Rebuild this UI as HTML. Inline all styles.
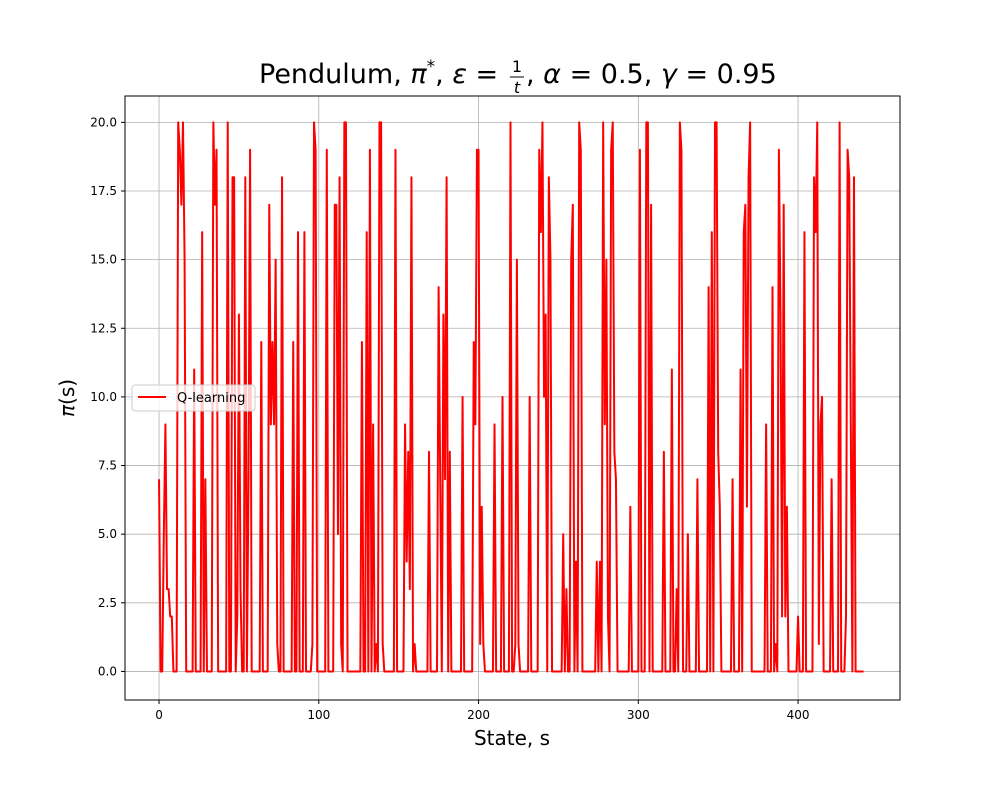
<!DOCTYPE html>
<html><head><meta charset="utf-8"><style>
body{margin:0;background:#fff;font-family:"Liberation Sans","DejaVu Sans",sans-serif}
svg text{font-family:"DejaVu Sans","Liberation Sans",sans-serif}
</style></head><body>
<svg id="chart" width="1000" height="800" xmlns="http://www.w3.org/2000/svg">
<rect width="1000" height="800" fill="#fff"/>
<g id="grid"></g>
<g id="series"></g>
<rect x="125" y="96" width="775" height="604" fill="none" stroke="#000" stroke-width="1"/>
<g id="ticks"></g>
<g font-size="27">
<text x="259" y="83">Pendulum, <tspan font-style="italic">π</tspan><tspan font-size="17" dy="-11">*</tspan><tspan dy="11">, </tspan><tspan font-style="italic">ε</tspan> =</text>
<text x="517" y="72" font-size="16" text-anchor="middle">1</text>
<line x1="510" y1="77" x2="524" y2="77" stroke="#000" stroke-width="1"/>
<text x="517" y="93" font-size="16" font-style="italic" text-anchor="middle">t</text>
<text x="526" y="83">, <tspan font-style="italic">α</tspan> = 0.5, <tspan font-style="italic">γ</tspan> = 0.95</text>
</g>
<text x="512" y="745" font-size="20" text-anchor="middle">State, s</text>
<text transform="translate(74,398) rotate(-90)" font-size="20" text-anchor="middle"><tspan font-style="italic">π</tspan>(s)</text>
<g>
<rect x="132" y="385" width="123" height="26" rx="3" fill="#fff" fill-opacity="0.8" stroke="#ccc"/>
<line x1="138" y1="397" x2="166" y2="397" stroke="#f00" stroke-width="2"/>
<text x="177" y="402" font-size="13">Q-learning</text>
</g>
</svg>
<script>
const xTicks=[0,100,200,300,400];
const yTicks=[0,2.5,5,7.5,10,12.5,15,17.5,20];
const yTickLabels=["0.0","2.5","5.0","7.5","10.0","12.5","15.0","17.5","20.0"];
const policy=[
7,0,0,5,9,3,3,2,2,0,
0,0,20,19,17,20,15,0,0,0,
0,0,11,0,0,0,0,16,0,7,
0,0,0,0,20,17,19,0,0,0,
0,0,0,20,0,0,18,18,0,2,
13,3,0,0,18,0,7,19,0,0,
0,0,0,0,12,0,0,0,0,17,
9,12,9,15,1,0,0,18,0,0,
0,0,0,0,12,0,0,16,0,0,
0,16,0,0,0,0,1,20,19,0,
0,0,0,0,0,19,0,0,0,0,
17,17,5,18,1,0,20,20,0,0,
0,0,0,0,0,0,0,12,0,0,
16,0,19,0,9,0,1,0,20,20,
1,0,0,0,0,0,0,0,19,0,
0,0,0,0,9,4,8,3,18,0,
1,0,0,0,0,0,0,0,0,8,
0,0,0,0,0,14,7,0,13,7,
18,0,8,0,0,0,0,0,0,0,
10,0,0,0,0,0,0,12,9,19,
19,1,6,1,0,0,0,0,0,0,
9,0,0,0,0,10,0,0,0,0,
20,0,0,1,15,1,0,0,0,0,
0,0,10,0,0,0,0,0,19,16,
20,10,13,0,18,15,0,0,0,0,
0,0,0,5,0,3,0,0,15,17,
0,4,0,20,19,0,0,0,0,0,
0,0,0,0,4,0,4,0,20,9,
15,2,0,19,20,8,7,0,0,0,
0,0,0,0,0,6,0,0,0,0,
0,19,0,0,0,20,20,0,17,0,
0,0,0,0,0,0,8,0,0,0,
0,11,0,0,3,0,20,19,0,0,
0,5,0,0,0,0,0,7,0,0,
0,0,0,0,14,0,16,0,20,20,
8,6,0,0,0,0,0,0,0,7,
0,0,0,0,11,0,16,17,6,18,
20,0,0,0,0,0,0,0,0,0,
9,0,0,0,14,0,1,0,19,13,
2,17,2,6,0,0,0,0,0,0,
2,0,0,0,16,0,0,0,0,0,
18,16,20,1,9,10,0,0,0,0,
0,7,0,0,0,0,20,0,0,0,
2,19,18,9,0,18,0,0,0,0,
0,0];
const NS="http://www.w3.org/2000/svg";
const L=125,R=900,T=96,B=700,xMin=-21.3,xMax=463.8,yMin=-1.04,yMax=20.96;
function xs(v){return L+(v-xMin)/(xMax-xMin)*(R-L);}
function ys(v){return B-(v-yMin)/(yMax-yMin)*(B-T);}
function mk(tag,attrs,parent){const e=document.createElementNS(NS,tag);for(const k in attrs)e.setAttribute(k,attrs[k]);parent.appendChild(e);return e;}
const grid=document.getElementById('grid'),ticks=document.getElementById('ticks'),series=document.getElementById('series');
xTicks.forEach(t=>{const x=xs(t);
 const g=mk('line',{x1:x,x2:x,y1:T,y2:B,stroke:'#b0b0b0','stroke-width':0.8},grid);
 
 
 const tk=mk('line',{x1:x,x2:x,y1:B,y2:B+4,stroke:'#000'},ticks);
 
 
 const tx=mk('text',{x:x,y:B+19,'font-size':12,'text-anchor':'middle'},ticks);
 tx.textContent=t;
 
 
});
yTicks.forEach((t,i)=>{const y=ys(t);
 const g=mk('line',{x1:L,x2:R,y1:y,y2:y,stroke:'#b0b0b0','stroke-width':0.8},grid);
 
 
 const tk=mk('line',{x1:L-4,x2:L,y1:y,y2:y,stroke:'#000'},ticks);
 
 
 const tx=mk('text',{x:L-8,y:y+4,'font-size':12,'text-anchor':'end'},ticks);
 tx.textContent=yTickLabels[i];
 
 
});
const pts=policy.map((v,i)=>xs(i).toFixed(2)+','+ys(v).toFixed(2)).join(' ');
const line=mk('polyline',{points:pts,fill:'none',stroke:'#f00','stroke-width':2,'stroke-linejoin':'round'},series);


</script>
</body></html>
